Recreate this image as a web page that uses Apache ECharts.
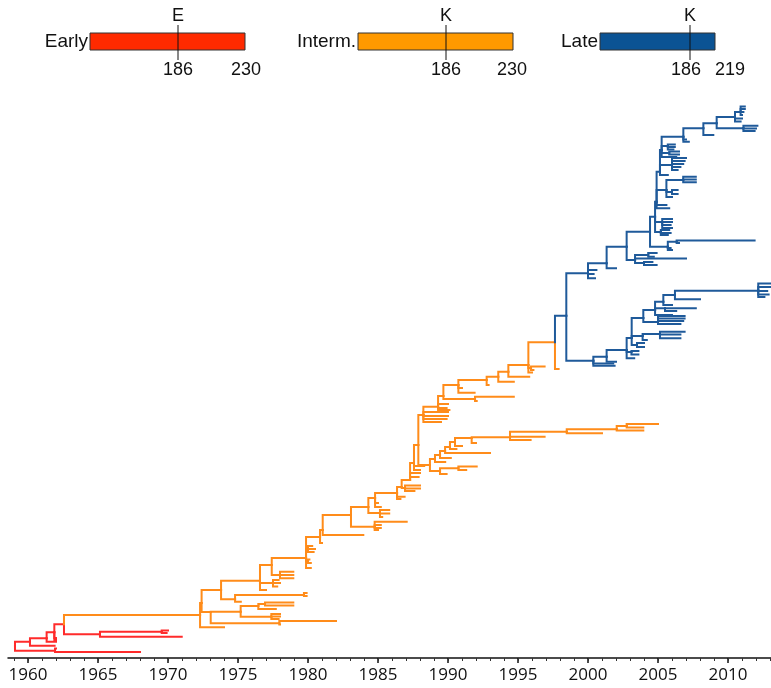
<!DOCTYPE html>
<html>
<head>
<meta charset="utf-8">
<script src="https://cdn.jsdelivr.net/npm/echarts@6/dist/echarts.min.js"></script>
<style>
  html, body { margin: 0; padding: 0; background: #fff; }
  #chart { width: 771px; height: 688px; }
</style>
</head>
<body>
<div id="chart"></div>
<script>
// tree nodes: [id, parentId, year, row]  (row = vertical position of the branch, top = 0)
// tips have no id
const earlyNodes = [
  ['R0', null, 1959.07, 546],
  ['RB', 'R0', 1961.93, 550.7],
  [null, 'RB', 1962.0, 548.5],
  [null, 'RB', 1968.0, 552],
  ['RA', 'R0', 1960.14, 541.7],
  [null, 'RA', 1961.9, 545.7],
  ['RC', 'RA', 1961.33, 538.3],
  [null, 'RC', 1962.0, 541.7],
  ['RE', 'RC', 1961.88, 532.3],
  [null, 'RE', 1962.0, 538],
  [null, 'RE', 1962.0, 540],
  ['RN', 'RE', 1962.57, 524.3],
  ['RF', 'RN', 1965.14, 534.3],
  [null, 'RF', 1970.98, 536.7],
  ['RG', 'RF', 1969.55, 531.7],
  [null, 'RG', 1970.0, 530.5],
  [null, 'RG', 1969.9, 533]
];

const intermNodes = [
  ['O0', 'RN', 1972.29, 515],
  [null, 'O0', 1974.0, 527.3],
  ['O1', 'O0', 1972.4, 503],
  ['O3', 'O1', 1973.05, 512],
  ['O4', 'O3', 1975.19, 511.7],
  ['O4a', 'O4', 1976.45, 506],
  ['O4c', 'O4a', 1976.93, 504],
  [null, 'O4c', 1978.95, 502.5],
  [null, 'O4c', 1978.95, 505.5],
  [null, 'O4a', 1977.7, 509],
  ['O4b', 'O4', 1977.38, 516.7],
  [null, 'O4b', 1978.0, 514],
  [null, 'O4b', 1978.0, 516.5],
  [null, 'O4b', 1977.9, 519],
  ['O5', 'O3', 1977.95, 523.3],
  [null, 'O5', 1982.0, 521],
  [null, 'O5', 1978.0, 524.5],
  ['O2', 'O1', 1973.79, 490],
  ['O7', 'O2', 1974.79, 499.3],
  ['O8', 'O7', 1979.71, 495],
  [null, 'O8', 1979.9, 493],
  [null, 'O8', 1979.9, 496],
  [null, 'O7', 1975.2, 501.7],
  ['O6', 'O2', 1976.57, 480.7],
  [null, 'O6', 1977.0, 490],
  ['O12', 'O6', 1977.5, 483],
  [null, 'O12', 1977.9, 480],
  [null, 'O12', 1978.0, 483],
  [null, 'O12', 1977.8, 486.5],
  ['O9', 'O6', 1977.41, 465],
  ['O11', 'O9', 1978.0, 475],
  [null, 'O11', 1978.95, 471.7],
  [null, 'O11', 1978.95, 475],
  [null, 'O11', 1978.95, 478.3],
  ['T1', 'O9', 1979.86, 458],
  ['T1a', 'T1', 1980.0, 449],
  [null, 'T1a', 1980.3, 446],
  [null, 'T1a', 1980.5, 449],
  [null, 'T1a', 1980.4, 452],
  ['T1b', 'T1', 1980.0, 461],
  [null, 'T1b', 1980.1, 459.5],
  [null, 'T1b', 1980.2, 463],
  [null, 'T1', 1980.2, 468],
  ['T2', 'T1', 1980.86, 437],
  [null, 'T2', 1981.0, 443],
  ['T3', 'T2', 1981.05, 430],
  [null, 'T3', 1983.95, 435],
  ['T4', 'T3', 1983.07, 415],
  ['T4a', 'T4', 1984.76, 426.7],
  [null, 'T4a', 1987.05, 421.7],
  [null, 'T4a', 1985.2, 425],
  [null, 'T4a', 1985.2, 428],
  [null, 'T4a', 1985.0, 430],
  ['T5', 'T4', 1984.31, 407],
  ['T5a', 'T5', 1985.14, 413],
  [null, 'T5a', 1985.8, 410],
  [null, 'T5a', 1985.8, 413.5],
  [null, 'T5a', 1985.3, 417],
  ['T6', 'T5', 1984.79, 398],
  [null, 'T6', 1985.0, 403],
  [null, 'T6', 1985.2, 407],
  ['T7', 'T6', 1986.36, 393],
  [null, 'T7', 1986.9, 396.7],
  [null, 'T7', 1986.6, 399],
  ['T8', 'T7', 1986.69, 387],
  ['T8a', 'T8', 1986.93, 388],
  [null, 'T8a', 1988.0, 385.5],
  [null, 'T8a', 1988.0, 388.5],
  [null, 'T8a', 1987.6, 391],
  ['T9', 'T8', 1987.29, 380],
  [null, 'T9', 1988.0, 373],
  [null, 'T9', 1987.9, 377],
  ['T10', 'T9', 1987.57, 363],
  [null, 'T10', 1988.3, 366],
  [null, 'T10', 1988.0, 370],
  ['M', 'T10', 1987.88, 345],
  // lower intermediate clade
  ['L0', 'M', 1988.71, 365],
  ['L1', 'L0', 1989.07, 359],
  [null, 'L1', 1989.8, 362],
  ['L2', 'L1', 1989.43, 355],
  [null, 'L2', 1990.2, 358],
  ['L3', 'L2', 1989.79, 351],
  [null, 'L3', 1993.0, 353],
  ['L4', 'L3', 1990.14, 347],
  [null, 'L4', 1990.6, 349],
  ['L5', 'L4', 1990.5, 342],
  [null, 'L5', 1991.0, 346],
  ['L6', 'L5', 1991.69, 338],
  [null, 'L6', 1992.0, 343],
  ['L7', 'L6', 1994.43, 337.3],
  [null, 'L7', 1996.9, 336.7],
  [null, 'L7', 1995.9, 340],
  ['L8', 'L7', 1998.48, 331.7],
  [null, 'L8', 2001.0, 333.3],
  ['L11', 'L8', 2002.05, 329.3],
  [null, 'L11', 2003.95, 330.5],
  ['L12', 'L11', 2002.76, 326],
  [null, 'L12', 2005.0, 324],
  [null, 'L12', 2003.95, 327.5],
  ['L9', 'L0', 1989.43, 371],
  [null, 'L9', 1989.9, 374],
  ['L10', 'L9', 1990.74, 368.3],
  [null, 'L10', 1992.05, 366.5],
  [null, 'L10', 1991.3, 370],
  // upper intermediate clade
  ['U1', 'M', 1988.24, 315],
  [null, 'U1', 1990.0, 312],
  [null, 'U1', 1990.0, 316],
  [null, 'U1', 1989.9, 319],
  [null, 'U1', 1989.5, 322],
  ['U2', 'U1', 1989.29, 306.7],
  [null, 'U2', 1990.0, 304],
  [null, 'U2', 1989.9, 308],
  [null, 'U2', 1990.1, 310],
  ['U3', 'U2', 1989.67, 296],
  ['U6', 'U3', 1991.93, 299],
  [null, 'U6', 1994.7, 296.7],
  [null, 'U6', 1992.05, 301],
  ['P1', 'U3', 1990.74, 285],
  [null, 'P1', 1991.0, 288],
  [null, 'P1', 1991.9, 292.7],
  ['P2', 'P1', 1992.76, 280],
  [null, 'P2', 1992.9, 285],
  ['P3', 'P2', 1993.59, 276.7],
  [null, 'P3', 1994.7, 281.7],
  ['P4', 'P3', 1994.31, 271.7],
  [null, 'P4', 1995.8, 276.7],
  ['P5', 'P4', 1995.74, 265],
  ['P5b', 'P5', 1995.93, 268],
  [null, 'P5b', 1996.9, 266.5],
  [null, 'P5b', 1996.1, 270],
  [null, 'P5', 1996.0, 272.5],
  ['J', 'P5', 1997.64, 242.3],
  [null, 'J', 1997.9, 269]
];

const lateNodes = [
  ['B0', 'J', 1998.45, 215.7],
  // upper late clade
  ['BU', 'B0', 2000.0, 173.3],
  [null, 'BU', 2000.6, 170],
  [null, 'BU', 2000.4, 174],
  [null, 'BU', 2000.5, 178.3],
  ['BU1', 'BU', 2001.33, 163.3],
  [null, 'BU1', 2002.0, 168.3],
  ['BU2', 'BU1', 2002.76, 146.7],
  ['BU4', 'BU2', 2003.36, 160],
  ['BU4a', 'BU4', 2004.3, 155],
  [null, 'BU4a', 2004.9, 153],
  [null, 'BU4a', 2004.7, 156.7],
  [null, 'BU4', 2007.0, 158.5],
  ['BU4b', 'BU4', 2004.0, 163],
  [null, 'BU4b', 2004.6, 162],
  [null, 'BU4b', 2004.9, 165],
  ['BU3', 'BU2', 2004.43, 131.7],
  ['BU6', 'BU3', 2005.7, 146.7],
  ['BU6a', 'BU6', 2006.33, 141.7],
  [null, 'BU6a', 2011.9, 140.5],
  [null, 'BU6a', 2006.5, 143],
  [null, 'BU6', 2005.9, 148],
  [null, 'BU6', 2006.0, 150],
  ['BU5', 'BU3', 2004.79, 116.7],
  ['BU5a', 'BU5', 2005.3, 122],
  [null, 'BU5a', 2006.0, 119],
  [null, 'BU5a', 2006.0, 122],
  [null, 'BU5a', 2005.9, 125],
  [null, 'BU5a', 2006.0, 128],
  ['BU5b', 'BU5', 2005.2, 132],
  [null, 'BU5b', 2005.8, 130],
  [null, 'BU5b', 2005.9, 133],
  [null, 'BU5b', 2005.7, 135],
  ['BU7', 'BU5', 2004.9, 101.7],
  [null, 'BU7', 2005.6, 105],
  [null, 'BU7', 2005.8, 108.3],
  ['BU9', 'BU7', 2005.6, 90],
  ['BU9a', 'BU9', 2006.8, 80],
  [null, 'BU9a', 2007.7, 76.7],
  [null, 'BU9a', 2007.7, 79.5],
  [null, 'BU9a', 2007.7, 82.3],
  ['BU9b', 'BU9', 2006.0, 92],
  [null, 'BU9b', 2006.4, 90],
  [null, 'BU9b', 2006.4, 94],
  [null, 'BU9', 2006.0, 97],
  ['BU8', 'BU7', 2005.14, 71.7],
  ['BU11', 'BU8', 2006.0, 65],
  [null, 'BU11', 2007.0, 58],
  [null, 'BU11', 2006.9, 61],
  [null, 'BU11', 2006.8, 64],
  [null, 'BU11', 2006.6, 67],
  [null, 'BU11', 2006.4, 70],
  [null, 'BU8', 2005.7, 75],
  ['BU10', 'BU8', 2005.26, 50],
  ['BU10a', 'BU10', 2005.7, 46],
  [null, 'BU10a', 2006.2, 44.5],
  [null, 'BU10a', 2006.2, 47],
  [null, 'BU10a', 2006.1, 49.5],
  ['BU10b', 'BU10', 2005.8, 53],
  [null, 'BU10b', 2006.5, 51.5],
  [null, 'BU10b', 2006.5, 54.5],
  [null, 'BU10', 2006.3, 57],
  ['BU13', 'BU10', 2006.81, 36.7],
  [null, 'BU13', 2007.0, 39.5],
  [null, 'BU13', 2007.2, 41.7],
  ['BU14', 'BU13', 2008.24, 28.3],
  [null, 'BU14', 2008.95, 35],
  ['BU15', 'BU14', 2009.19, 23.3],
  ['BU16', 'BU15', 2010.5, 17],
  ['BU16a', 'BU16', 2010.9, 12],
  [null, 'BU16a', 2011.2, 6.5],
  [null, 'BU16a', 2011.2, 9],
  [null, 'BU16a', 2011.1, 12],
  [null, 'BU16a', 2011.0, 15],
  [null, 'BU16', 2011.0, 18.5],
  [null, 'BU16', 2010.9, 21.5],
  ['BU17', 'BU15', 2011.1, 28.3],
  [null, 'BU17', 2012.1, 25.7],
  [null, 'BU17', 2012.0, 28.5],
  [null, 'BU17', 2011.9, 31],
  // lower late clade
  ['BL', 'B0', 2000.38, 260.7],
  [null, 'BL', 2001.8, 263.5],
  [null, 'BL', 2001.9, 265.7],
  ['BL1', 'BL', 2001.33, 256.7],
  [null, 'BL1', 2002.0, 261.7],
  ['BL2', 'BL1', 2002.76, 250],
  ['BL2a', 'BL2', 2003.1, 252],
  [null, 'BL2a', 2003.6, 251],
  [null, 'BL2a', 2003.6, 254.5],
  [null, 'BL2', 2003.3, 258.3],
  ['BL3', 'BL2', 2003.12, 238],
  ['BL6', 'BL3', 2003.5, 245],
  [null, 'BL6', 2004.0, 243],
  [null, 'BL6', 2004.0, 247],
  ['BL5', 'BL3', 2003.9, 236],
  ['BL5a', 'BL5', 2005.14, 234],
  [null, 'BL5a', 2006.9, 231.7],
  [null, 'BL5a', 2006.6, 234.5],
  [null, 'BL5a', 2006.6, 238.3],
  [null, 'BL5', 2004.2, 240],
  ['BL4', 'BL3', 2003.95, 218],
  ['BL8', 'BL4', 2005.0, 222],
  [null, 'BL8', 2006.9, 216],
  [null, 'BL8', 2006.9, 218.5],
  [null, 'BL8', 2006.8, 221],
  [null, 'BL8', 2006.6, 224],
  ['BL7', 'BL4', 2004.79, 210],
  ['BL7a', 'BL7', 2005.5, 208.3],
  [null, 'BL7a', 2007.7, 208.3],
  [null, 'BL7a', 2006.3, 211],
  [null, 'BL7', 2006.0, 215],
  ['BL9', 'BL7', 2005.38, 201.7],
  [null, 'BL9', 2006.0, 205],
  ['BL10', 'BL9', 2006.21, 195],
  [null, 'BL10', 2008.0, 199.3],
  ['BL11', 'BL10', 2012.16, 190.7],
  [null, 'BL11', 2013.0, 183.5],
  [null, 'BL11', 2013.0, 187],
  [null, 'BL11', 2012.8, 191],
  [null, 'BL11', 2012.9, 194.5],
  [null, 'BL11', 2012.6, 197]
];

const yearTicks = [1960, 1965, 1970, 1975, 1980, 1985, 1990, 1995, 2000, 2005, 2010];

const legendNames = ['Early', 'Interm.', 'Late'];
const legendLetters = ['E', 'K', 'K'];
const legendMarks = ['186', '186', '186'];
const legendEnds = ['230', '230', '219'];

const cladeColors = ['#ff2b2b', '#ff8c1a', '#1f5a9a'];
const legendColors = ['#ff2a00', '#ff9900', '#0b5394'];

// index every internal node so children can find their parent
const nodeIndex = {};
[earlyNodes, intermNodes, lateNodes].forEach(function (list) {
  list.forEach(function (n) {
    if (n[0]) nodeIndex[n[0]] = { year: n[2], row: n[3] };
  });
});

function branches(list) {
  var out = [];
  list.forEach(function (n) {
    var p = nodeIndex[n[1]];
    if (!p) return;
    out.push({ coords: [[p.year, p.row], [p.year, n[3]], [n[2], n[3]]] });
  });
  return out;
}

var minorTicks = [];
for (var y = 1959; y <= 2013; y++) minorTicks.push(y);

// legend bars at the top (layout only)
var barLeft = [90, 358, 600];
var barRight = [245, 513, 715];
var markX = [178, 446, 690];
var markLabelX = [178, 446, 686];
var endLabelX = [246, 512, 730];
var graphics = [];
for (var i = 0; i < legendNames.length; i++) {
  graphics.push({
    type: 'rect',
    shape: { x: barLeft[i], y: 33, width: barRight[i] - barLeft[i], height: 17 },
    style: { fill: legendColors[i], stroke: '#333', lineWidth: 1 }
  });
  graphics.push({
    type: 'line',
    shape: { x1: markX[i], y1: 25, x2: markX[i], y2: 60 },
    style: { stroke: '#111', lineWidth: 1 }
  });
  graphics.push({
    type: 'text', x: barLeft[i] - 2, y: 42,
    style: { text: legendNames[i], fontSize: 19, fontFamily: 'Liberation Sans, Arial', fill: '#111', align: 'right', verticalAlign: 'middle' }
  });
  graphics.push({
    type: 'text', x: markX[i], y: 16,
    style: { text: legendLetters[i], fontSize: 18, fontFamily: 'Liberation Sans, Arial', fill: '#111', align: 'center', verticalAlign: 'middle' }
  });
  graphics.push({
    type: 'text', x: markLabelX[i], y: 70,
    style: { text: legendMarks[i], fontSize: 18, fontFamily: 'Liberation Sans, Arial', fill: '#111', align: 'center', verticalAlign: 'middle' }
  });
  graphics.push({
    type: 'text', x: endLabelX[i], y: 70,
    style: { text: legendEnds[i], fontSize: 18, fontFamily: 'Liberation Sans, Arial', fill: '#111', align: 'center', verticalAlign: 'middle' }
  });
}

var chart = echarts.init(document.getElementById('chart'));

var gridBox = { left: 8, right: 0, top: 100, bottom: 30 };

var option = {
  animation: false,
  backgroundColor: '#fff',
  grid: [gridBox, Object.assign({}, gridBox)],
  xAxis: [
    {
      type: 'value',
      gridIndex: 0,
      min: 1958.571,
      max: 2013.071,
      position: 'bottom',
      axisLine: { show: true, onZero: false, lineStyle: { color: '#111', width: 1.5 } },
      axisTick: { show: true, customValues: yearTicks, length: 5, lineStyle: { color: '#111', width: 1.5 } },
      axisLabel: {
        customValues: yearTicks, fontSize: 17, fontFamily: 'Open Sans', color: '#111', margin: 9,
        formatter: function (v) { return String(v); }
      },
      splitLine: { show: false }
    },
    {
      // minor yearly ticks, drawn on an identical second grid
      type: 'value',
      gridIndex: 1,
      min: 1958.571,
      max: 2013.071,
      position: 'bottom',
      axisLine: { show: false, onZero: false },
      axisTick: { show: true, customValues: minorTicks, length: 3, lineStyle: { color: '#333', width: 1 } },
      axisLabel: { show: false },
      splitLine: { show: false }
    }
  ],
  yAxis: [
    { type: 'value', gridIndex: 0, inverse: true, min: 0, max: 558, show: false },
    { type: 'value', gridIndex: 1, inverse: true, min: 0, max: 558, show: false }
  ],
  graphic: graphics,
  series: [earlyNodes, intermNodes, lateNodes].map(function (list, k) {
    return {
      type: 'lines',
      coordinateSystem: 'cartesian2d',
      xAxisIndex: 0,
      yAxisIndex: 0,
      polyline: true,
      silent: true,
      lineStyle: { color: cladeColors[k], width: 2, opacity: 1, cap: 'square', join: 'miter' },
      data: branches(list)
    };
  })
};

chart.setOption(option);
</script>
</body>
</html>
